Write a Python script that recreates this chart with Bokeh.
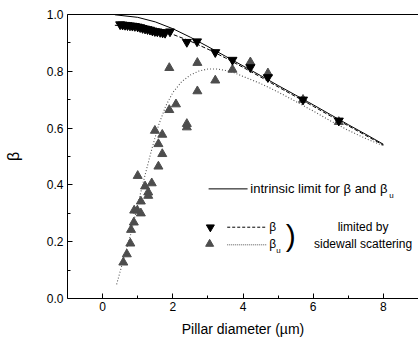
from bokeh.plotting import figure
from bokeh.models import Range1d, FixedTicker, LinearAxis, Label
from bokeh.embed import file_html
from bokeh.resources import INLINE

# beta (black down triangles)
beta_x = [0.50, 0.57, 0.64, 0.71, 0.78, 0.85, 0.92, 1.00, 1.07, 1.14, 1.21, 1.28, 1.35,
          1.42, 1.49, 1.56, 1.64, 1.71, 1.78, 1.92, 2.40, 2.69, 3.21, 3.70, 4.21, 4.71,
          5.71, 6.73]
beta_y = [0.965, 0.964, 0.963, 0.962, 0.961, 0.960, 0.959, 0.957, 0.955, 0.952, 0.950,
          0.948, 0.946, 0.943, 0.941, 0.940, 0.938, 0.936, 0.935, 0.940, 0.903, 0.905,
          0.867, 0.840, 0.814, 0.779, 0.700, 0.626]

# beta_u (gray up triangles)
betau_x = [0.59, 0.69, 0.79, 0.81, 0.89, 0.90, 0.99, 1.09, 1.09, 1.00, 1.21, 1.30, 1.30,
           1.40, 1.59, 1.70, 1.59, 1.49, 1.70, 1.90, 2.09, 1.90, 2.40, 2.40, 2.70, 2.70,
           3.21, 3.70, 4.21, 4.71, 5.71, 6.73]
betau_y = [0.127, 0.156, 0.194, 0.242, 0.268, 0.310, 0.310, 0.300, 0.342, 0.432, 0.395,
           0.374, 0.362, 0.406, 0.465, 0.509, 0.544, 0.591, 0.577, 0.664, 0.684, 0.812,
           0.615, 0.603, 0.730, 0.830, 0.768, 0.806, 0.832, 0.793, 0.700, 0.622]

# intrinsic limit (solid)
lim_x = [0.35, 1.0, 1.5, 2.0, 2.5, 3.0, 3.5, 4.0, 4.5, 5.0, 5.5, 6.0, 6.5, 7.0, 7.5, 8.0]
lim_y = [0.999, 0.990, 0.974, 0.950, 0.920, 0.887, 0.853, 0.819, 0.785, 0.750, 0.716,
         0.682, 0.647, 0.612, 0.578, 0.543]

# beta limited by sidewall scattering (dashed)
bfit_x = [0.35, 1.0, 1.5, 2.0, 2.5, 3.0, 3.5, 4.0, 4.5, 5.0, 5.5, 6.0, 6.5, 7.0, 7.5, 8.0]
bfit_y = [0.962, 0.958, 0.948, 0.930, 0.906, 0.878, 0.847, 0.814, 0.780, 0.745, 0.711,
          0.677, 0.642, 0.608, 0.574, 0.540]

# beta_u limited by sidewall scattering (dotted)
bufit_x = [0.40, 0.60, 0.80, 1.00, 1.20, 1.40, 1.60, 1.80, 2.00, 2.25, 2.50, 2.75, 3.00,
           3.25, 3.50, 3.75, 4.00, 4.50, 5.00, 5.50, 6.00, 6.50, 7.00, 7.50, 8.00]
bufit_y = [0.050, 0.140, 0.225, 0.330, 0.430, 0.525, 0.612, 0.678, 0.725, 0.763, 0.787,
           0.801, 0.808, 0.808, 0.803, 0.795, 0.782, 0.757, 0.727, 0.694, 0.660, 0.625,
           0.592, 0.563, 0.538]

x_ticks = [0, 2, 4, 6, 8]
x_minor = [1, 3, 5, 7]
y_ticks = [0.0, 0.2, 0.4, 0.6, 0.8, 1.0]
y_minor = [0.1, 0.3, 0.5, 0.7, 0.9]

FONT = "Liberation Sans"
GRAY = "#4d4d4d"

p = figure(width=418, height=343, output_backend="svg", toolbar_location=None,
           x_range=Range1d(-1, 9), y_range=Range1d(0, 1),
           min_border_left=67, min_border_right=0, min_border_top=14, min_border_bottom=45)
p.grid.visible = False
p.outline_line_color = None
p.outline_line_alpha = 0
p.background_fill_color = "white"
p.border_fill_color = "white"

for ax in (p.xaxis[0], p.yaxis[0]):
    ax.major_tick_in = 5
    ax.major_tick_out = 0
    ax.minor_tick_in = 3
    ax.minor_tick_out = 0
    ax.axis_line_color = "black"
    ax.major_tick_line_color = "black"
    ax.minor_tick_line_color = "black"
    ax.major_label_text_font = FONT
    ax.major_label_text_font_size = "12px"
    ax.major_label_text_color = "black"
    ax.axis_label_text_font = FONT
    ax.axis_label_text_font_style = "normal"
    ax.axis_label_text_color = "black"

p.xaxis[0].ticker = FixedTicker(ticks=x_ticks, minor_ticks=x_minor)
p.yaxis[0].ticker = FixedTicker(ticks=y_ticks, minor_ticks=y_minor)
p.yaxis[0].major_label_overrides = {t: f"{t:.1f}" for t in y_ticks}
p.xaxis[0].major_label_standoff = 3
p.yaxis[0].major_label_standoff = 4
p.xaxis[0].axis_label = "Pillar diameter (\u00b5m)"
p.xaxis[0].axis_label_text_font_size = "14px"
p.xaxis[0].axis_label_standoff = 7
p.yaxis[0].axis_label = "\u03b2"
p.yaxis[0].axis_label_text_font_size = "16px"
p.yaxis[0].axis_label_standoff = 22

top = LinearAxis(ticker=FixedTicker(ticks=[]), major_tick_line_color=None,
                 minor_tick_line_color=None, major_label_text_font_size="0px",
                 major_label_standoff=0, axis_line_color="black")
p.add_layout(top, "above")

# curves
p.line(lim_x, lim_y, line_color="black", line_width=1)
p.line(bfit_x, bfit_y, line_color="black", line_width=1, line_dash="4 2")
p.line(bufit_x, bufit_y, line_color="#555555", line_width=1.1, line_dash="1 2")

# points
p.scatter(betau_x, betau_y, marker="triangle", size=9, fill_color=GRAY, line_color=GRAY)
p.scatter(beta_x, beta_y, marker="inverted_triangle", size=9, fill_color="black", line_color="black")

# legend (drawn manually)
p.line([3.02, 4.13], [0.386, 0.386], line_color="black", line_width=1)
p.scatter([3.07], [0.251], marker="inverted_triangle", size=8, fill_color="black", line_color="black")
p.line([3.55, 4.69], [0.251, 0.251], line_color="black", line_width=1, line_dash="3 2")
p.scatter([3.05], [0.192], marker="triangle", size=8, fill_color=GRAY, line_color=GRAY)
p.line([3.55, 4.69], [0.189, 0.189], line_color="#555555", line_width=1, line_dash="1 1")

def lab(x, y, t, size="12px", align="left"):
    p.add_layout(Label(x=x, y=y, text=t, text_font=FONT, text_font_size=size,
                       text_align=align, text_baseline="middle", text_color="black"))

lab(4.21, 0.388, "intrinsic limit for \u03b2 and \u03b2", size="13px")
lab(8.17, 0.362, "u", size="8px")
lab(4.75, 0.253, "\u03b2")
lab(4.75, 0.192, "\u03b2")
lab(4.95, 0.168, "u", size="8px")
lab(5.36, 0.222, ")", size="30px", align="center")
lab(7.42, 0.253, "limited by", align="center")
lab(7.42, 0.192, "sidewall scattering", align="center")

open("out.html", "w").write(file_html(p, INLINE))
